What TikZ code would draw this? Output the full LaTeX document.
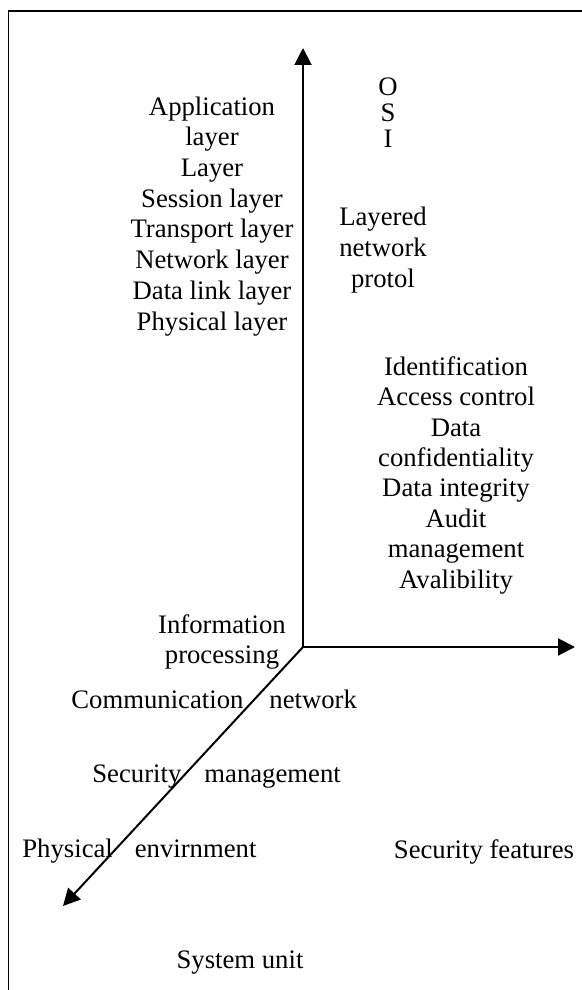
\documentclass[tikz,border=0pt]{standalone}
\usepackage{fontspec}
\setmainfont{Liberation Serif}
\usetikzlibrary{arrows.meta}
\begin{document}
\begin{tikzpicture}[x=0.5pt,y=-0.5pt,
  >={Triangle[length=8.5pt,width=8.5pt]},
  lbl/.style={inner sep=0pt, align=center, anchor=base},
  sk/.style={font=\fontsize{13.35}{#1}\selectfont},
  axis/.style={line width=1pt, line join=miter},
  frame/.style={line width=0.8pt, line join=miter}]
\useasboundingbox (0,0) rectangle (582,990);

% open frame: left and top edges only
\draw[frame] (8.5,990) -- (8.5,11) -- (582,11);

% axes
\coordinate (o) at (303,647);
\coordinate (ytip) at (303,48);
\coordinate (xtip) at (575,647);
\coordinate (ztip) at (63,906);
\draw[axis, <->] (ytip) -- (o) -- (xtip);
\draw[axis, ->] (o) -- (ztip);

% labels along the vertical axis (positioned by the last line's baseline)
\node[lbl, sk=15.35pt] (layers) at (212,330)
  {Application\\layer\\Layer\\Session layer\\Transport layer\\Network layer\\Data link layer\\Physical layer};
\node[lbl, sk=13pt] (osi) at (388,148) {O\\S\\I};
\node[lbl, sk=15.35pt] (layered) at (383,287) {Layered\\network\\protol};

% security services
\node[lbl, sk=15.2pt] (services) at (456,588)
  {Identification\\Access control\\Data\\confidentiality\\Data integrity\\Audit\\management\\Avalibility};

% labels along the diagonal axis
\node[lbl, sk=15pt] (info) at (222,663) {Information\\processing};
\node[lbl, sk=14pt, anchor=base west] (comm) at (71,708) {Communication\hspace{13pt}network};
\node[lbl, sk=14pt, anchor=base west] (secmgmt) at (92,782) {Security\hspace{11.5pt}management};
\node[lbl, sk=14pt, anchor=base west] (physenv) at (22,857) {Physical\hspace{11pt}envirnment};

% axis names
\node[lbl, sk=14pt] (secfeat) at (484,858) {Security features};
\node[lbl, sk=14pt] (sysunit) at (240,968) {System unit};
\end{tikzpicture}
\end{document}
